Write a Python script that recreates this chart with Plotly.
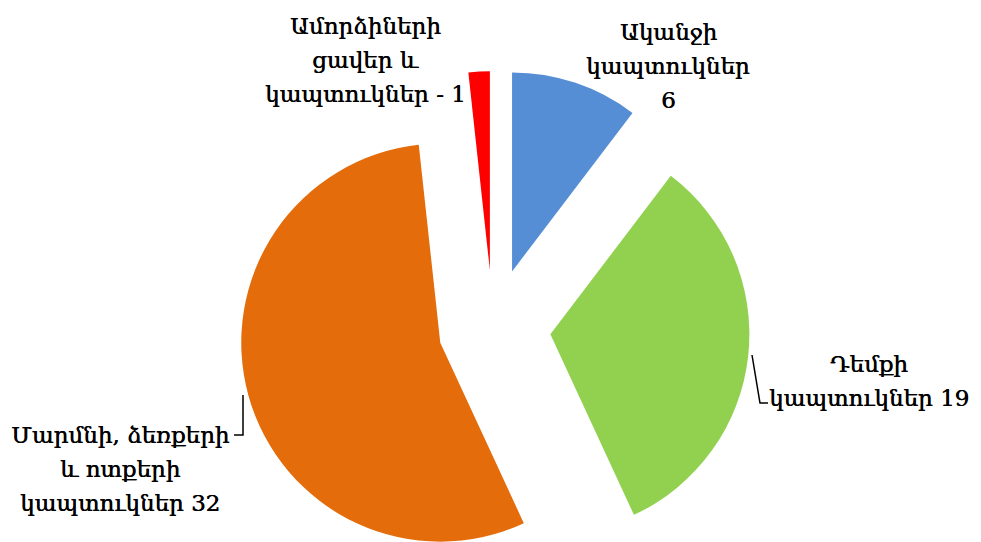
import math
import plotly.graph_objects as go

# ---- data ----
label_lines = [
    ["Ականջի", "կապտուկներ", "{v}"],
    ["Դեմքի", "կապտուկներ {v}"],
    ["Մարմնի, ձեռքերի", "և ոտքերի", "կապտուկներ {v}"],
    ["Ամորձիների", "ցավեր և", "կապտուկներ - {v}"],
]
values = [6, 19, 32, 1]
colors = ["#558ED5", "#92D050", "#E46C0A", "#FF0000"]
pulls = [0.30, 0.29, 0.275, 0.29]

OFF = 8                        # page body margin: figure is drawn 8px right/down
W, H = 981 - OFF, 542 - OFF    # keep the figure inside the 981x542 window
R = 199                        # pie radius in px
CX, CY = 493, 328              # pie centre on screen (px from top-left)


def fx(x):
    return (x - OFF) / W


def fy(y):
    return 1 - (y - OFF) / H


total = sum(values)
fig = go.Figure()
start = 0.0
for lines, v, col, p in zip(label_lines, values, colors, pulls):
    span = 360.0 * v / total
    mid = math.radians(start + span / 2)
    cx = CX + p * R * math.sin(mid)
    cy = CY - p * R * math.cos(mid)
    dx = [max(0, fx(cx - R)), min(1, fx(cx + R))]
    dy = [max(0, fy(cy + R)), min(1, fy(cy - R))]
    fig.add_trace(go.Pie(
        values=[v, total - v],
        labels=[" ".join(lines).format(v=v), "_rest"],
        marker=dict(colors=[col, "rgba(0,0,0,0)"], line=dict(width=0)),
        sort=False,
        direction="clockwise",
        rotation=start,
        textinfo="none",
        hoverinfo="skip",
        showlegend=False,
        domain=dict(x=dx, y=dy),
    ))
    start += span

font = dict(family="DejaVu Serif", size=23, color="black",
            shadow="0.5px 0px 0px black")
# centre x of each label block and centre y of its first line, line spacing
label_pos = [(668, 32), (869, 364), (120, 435), (365, 26)]
LINE = 34
annotations = []
for lines, v, (x, y) in zip(label_lines, values, label_pos):
    for i, ln in enumerate(lines):
        annotations.append(dict(
            x=fx(x), y=fy(y + i * LINE), xref="paper", yref="paper",
            text=ln.format(v=v), showarrow=False,
            align="center", xanchor="center", yanchor="middle", font=font,
        ))


def path(pts):
    return "M " + " L ".join(f"{fx(x)},{fy(y)}" for x, y in pts)


shapes = [
    dict(type="path", xref="paper", yref="paper",
         path=path([(752, 355), (760, 403), (768, 403)]),
         line=dict(color="black", width=1.5)),
    dict(type="path", xref="paper", yref="paper",
         path=path([(243, 395), (243, 435), (234, 435)]),
         line=dict(color="black", width=1.5)),
]

fig.update_layout(
    width=W, height=H,
    margin=dict(l=0, r=0, t=0, b=0),
    paper_bgcolor="white", plot_bgcolor="white",
    annotations=annotations, shapes=shapes,
    showlegend=False,
)
fig.write_html("out.html")
